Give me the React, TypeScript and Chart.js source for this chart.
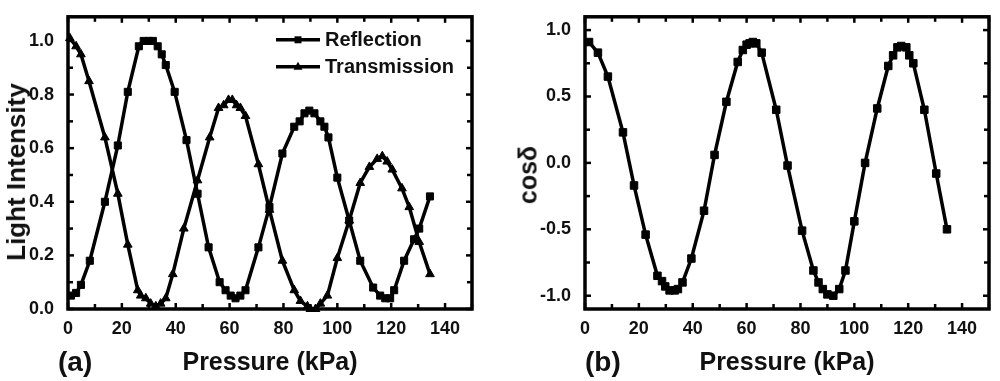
import React, { useEffect, useRef } from "react";
import { Chart, registerables } from "chart.js";

Chart.register(...registerables);

// ---------- Data (panel a) ----------
const reflectionP = [1.1, 3, 4.8, 8.1, 13.7, 18.5, 22.2, 26.3, 28.1, 30, 31.5, 33.3, 34.8, 36.3, 39.6, 44, 48.1, 52.2, 56.3, 58.5, 60.4, 62.2, 64, 65.9, 70.7, 74.8, 79.6, 84, 86, 87.8, 89.6, 91.5, 93.7, 95.2, 96.7, 100, 104.4, 108.5, 113.3, 115.9, 117.8, 119.6, 121.1, 124.8, 128.5, 130.4, 134.4];
const reflectionI = [0.05, 0.06, 0.09, 0.18, 0.4, 0.61, 0.81, 0.98, 1.0, 1.0, 1.0, 0.98, 0.95, 0.91, 0.81, 0.63, 0.43, 0.23, 0.1, 0.07, 0.05, 0.04, 0.05, 0.07, 0.23, 0.38, 0.58, 0.68, 0.7, 0.73, 0.74, 0.73, 0.7, 0.68, 0.64, 0.49, 0.33, 0.18, 0.08, 0.05, 0.04, 0.04, 0.07, 0.18, 0.26, 0.3, 0.42];

const transmissionP = [0.7, 3, 4.8, 7.8, 13.7, 18.5, 22.2, 25.9, 27, 28.9, 30.7, 32.6, 34.4, 36.3, 38.9, 43, 48.1, 52.6, 55.9, 57.8, 59.6, 61, 62.6, 64, 65.9, 70.7, 74.8, 79.6, 84, 86.3, 88.9, 90, 91.9, 93.7, 96.3, 100, 104.4, 108.5, 111.9, 114.8, 116.7, 118.5, 120.4, 124, 126.7, 130.4, 134.4];
const transmissionI = [1.01, 0.98, 0.95, 0.85, 0.64, 0.43, 0.24, 0.07, 0.05, 0.04, 0.02, 0.01, 0.02, 0.04, 0.13, 0.3, 0.48, 0.64, 0.75, 0.76, 0.78, 0.78, 0.76, 0.75, 0.72, 0.54, 0.37, 0.18, 0.07, 0.03, 0.01, 0.0, 0.0, 0.02, 0.05, 0.19, 0.33, 0.47, 0.53, 0.56, 0.57, 0.55, 0.52, 0.45, 0.38, 0.25, 0.13];

// ---------- Data (panel b) ----------
const cosP = [1.5, 4.8, 8.5, 14.1, 18.2, 22.5, 26.9, 28.6, 29.8, 31.4, 33.3, 34.5, 36.2, 39.5, 44.2, 48.1, 52.5, 56.7, 58.6, 60, 61.1, 62.3, 63.6, 65.6, 71, 75.2, 80.6, 84.8, 86.7, 88.3, 90, 92.2, 94.4, 96.7, 100, 104, 108.5, 112.6, 114.4, 116, 117.4, 119.3, 120.4, 121.9, 126, 130.4, 134.4];
const cosV = [0.91, 0.83, 0.65, 0.23, -0.17, -0.54, -0.85, -0.89, -0.93, -0.96, -0.96, -0.95, -0.9, -0.72, -0.36, 0.06, 0.46, 0.76, 0.85, 0.89, 0.9, 0.91, 0.9, 0.83, 0.4, -0.02, -0.51, -0.81, -0.9, -0.95, -0.99, -1.0, -0.95, -0.81, -0.44, 0.0, 0.41, 0.73, 0.81, 0.87, 0.88, 0.87, 0.81, 0.75, 0.4, -0.08, -0.5];

// ---------- Ticks ----------
const xMajorTicks = [0, 20, 40, 60, 80, 100, 120, 140];
const xMinorTicks = [10, 30, 50, 70, 90, 110, 130, 150];
const yMajorTicksA = [0, 0.2, 0.4, 0.6, 0.8, 1.0];
const yMinorTicksA = [0.1, 0.3, 0.5, 0.7, 0.9];
const yMajorTicksB = [-1.0, -0.5, 0.0, 0.5, 1.0];
const yMinorTicksB = [-0.75, -0.25, 0.25, 0.75];

const FONT = "'Liberation Sans', Arial, Helvetica, sans-serif";
const INK = "#111";

const toPoints = (xs: number[], ys: number[]) => xs.map((x, i) => ({ x, y: ys[i] }));

const framePlugin = {
  id: "frameTicks",
  afterDraw(chart: any, _args: any, opts: any) {
    const { ctx, chartArea, scales } = chart;
    const { left, right, top, bottom } = chartArea;
    ctx.save();
    ctx.strokeStyle = "#000";
    ctx.lineCap = "butt";
    const seg = (x1: number, y1: number, x2: number, y2: number) => {
      ctx.beginPath();
      ctx.moveTo(x1, y1);
      ctx.lineTo(x2, y2);
      ctx.stroke();
    };
    ctx.lineWidth = 2.5;
    const drawX = (vals: number[], len: number) => {
      for (const v of vals) {
        const px = scales.x.getPixelForValue(v);
        if (px < left - 0.5 || px > right + 0.5) continue;
        seg(px, bottom, px, bottom - len);
        seg(px, top, px, top + len);
      }
    };
    const drawY = (vals: number[], len: number) => {
      for (const v of vals) {
        const py = scales.y.getPixelForValue(v);
        seg(left, py, left + len, py);
        seg(right, py, right - len, py);
      }
    };
    drawX(opts.xMajor, 6);
    drawX(opts.xMinor, 5);
    drawY(opts.yMajor, 6);
    drawY(opts.yMinor, 5);
    ctx.lineWidth = 3.5;
    ctx.strokeRect(left, top, right - left, bottom - top);
    ctx.restore();
  },
};

const legendPlugin = {
  id: "insideLegend",
  afterDraw(chart: any, _args: any, opts: any) {
    if (!opts || !opts.enabled) return;
    const { ctx, chartArea } = chart;
    ctx.save();
    chart.data.datasets.forEach((ds: any, i: number) => {
      const y = chartArea.top + 23 + i * 27;
      const x1 = chartArea.right - 196;
      const x2 = chartArea.right - 152;
      const cx = (x1 + x2) / 2;
      ctx.strokeStyle = "#000";
      ctx.lineWidth = 3.5;
      ctx.beginPath();
      ctx.moveTo(x1, y);
      ctx.lineTo(x2, y);
      ctx.stroke();
      ctx.fillStyle = "#000";
      ctx.beginPath();
      if (ds.pointStyle === "triangle") {
        ctx.moveTo(cx, y - 5);
        ctx.lineTo(cx + 4.5, y + 3);
        ctx.lineTo(cx - 4.5, y + 3);
        ctx.closePath();
      } else {
        ctx.rect(cx - 3.5, y - 3.5, 7, 7);
      }
      ctx.fill();
      ctx.fillStyle = INK;
      ctx.font = `bold 20px ${FONT}`;
      ctx.textBaseline = "middle";
      ctx.textAlign = "left";
      ctx.fillText(ds.label, x2 + 5, y + 1);
    });
    ctx.restore();
  },
};

function makeOptions(p: {
  yMin: number; yMax: number; yMajor: number[]; yMinor: number[]; yWidth: number; padRight: number; legend: boolean;
}) {
  return {
    animation: false,
    responsive: false,
    maintainAspectRatio: false,
    layout: { padding: { top: 12, right: p.padRight, left: 0, bottom: 0 } },
    plugins: {
      legend: { display: false },
      tooltip: { enabled: false },
      frameTicks: { xMajor: xMajorTicks, xMinor: xMinorTicks, yMajor: p.yMajor, yMinor: p.yMinor },
      insideLegend: { enabled: p.legend },
    },
    scales: {
      x: {
        type: "linear",
        min: 0,
        max: 150,
        grid: { display: false },
        border: { display: false },
        afterBuildTicks: (s: any) => { s.ticks = xMajorTicks.map((v) => ({ value: v })); },
        afterFit: (s: any) => { s.height = 72; },
        ticks: {
          autoSkip: false, maxRotation: 0, padding: 1, color: INK,
          font: { size: 18, weight: "bold", family: FONT },
          callback: (v: any) => String(v),
        },
        title: {
          display: true, text: "Pressure (kPa)", color: INK,
          font: { size: 25, weight: "bold", family: FONT },
          padding: { top: 0, bottom: 3 },
        },
      },
      y: {
        type: "linear",
        min: p.yMin,
        max: p.yMax,
        grid: { display: false },
        border: { display: false },
        afterBuildTicks: (s: any) => { s.ticks = p.yMajor.map((v) => ({ value: v })); },
        afterFit: (s: any) => { s.width = p.yWidth; },
        ticks: {
          autoSkip: false, padding: 6, color: INK,
          font: { size: 18, weight: "bold", family: FONT },
          callback: (v: any) => Number(v).toFixed(1),
        },
      },
    },
  };
}

const lineDs = (label: string, data: any[], pointStyle: string, radius: number) => ({
  label,
  data,
  pointStyle,
  borderColor: "#000",
  backgroundColor: "#000",
  pointBackgroundColor: "#000",
  pointBorderColor: "#000",
  borderWidth: 3.5,
  pointRadius: radius,
  pointBorderWidth: 1,
  tension: 0,
  clip: false,
  fill: false,
});

export default function App() {
  const refA = useRef<HTMLCanvasElement | null>(null);
  const refB = useRef<HTMLCanvasElement | null>(null);

  useEffect(() => {
    const chartA = new Chart(refA.current as HTMLCanvasElement, {
      type: "line",
      data: {
        datasets: [
          lineDs("Reflection", toPoints(reflectionP, reflectionI), "rect", 5) as any,
          lineDs("Transmission", toPoints(transmissionP, transmissionI), "triangle", 5) as any,
        ],
      },
      options: makeOptions({ yMin: 0, yMax: 1.09, yMajor: yMajorTicksA, yMinor: yMinorTicksA, yWidth: 68, padRight: 28, legend: true }) as any,
      plugins: [framePlugin, legendPlugin],
    });
    const chartB = new Chart(refB.current as HTMLCanvasElement, {
      type: "line",
      data: {
        datasets: [lineDs("cosδ", toPoints(cosP, cosV), "rect", 5.3) as any],
      },
      options: makeOptions({ yMin: -1.1, yMax: 1.1, yMajor: yMajorTicksB, yMinor: yMinorTicksB, yWidth: 85, padRight: 11, legend: false }) as any,
      plugins: [framePlugin, legendPlugin],
    });
    return () => {
      chartA.destroy();
      chartB.destroy();
    };
  }, []);

  const label: React.CSSProperties = {
    position: "absolute",
    fontFamily: FONT,
    fontWeight: "bold",
    color: INK,
    whiteSpace: "nowrap",
    lineHeight: 1,
  };

  return (
    <div style={{ position: "absolute", left: 0, top: 0, width: 1000, height: 381, background: "#fff", overflow: "hidden" }}>
      <canvas ref={refA} width={500} height={381} style={{ position: "absolute", left: 0, top: 0, width: 500, height: 381 }} />
      <canvas ref={refB} width={500} height={381} style={{ position: "absolute", left: 500, top: 0, width: 500, height: 381 }} />
      <div style={{ ...label, left: 16, top: 172, fontSize: 26, transform: "translate(-50%, -50%) rotate(-90deg)" }}>Light Intensity</div>
      <div style={{ ...label, left: 528, top: 175, fontSize: 25, transform: "translate(-50%, -50%) rotate(-90deg)" }}>cosδ</div>
      <div style={{ ...label, left: 58, top: 348, fontSize: 28 }}>(a)</div>
      <div style={{ ...label, left: 585, top: 348, fontSize: 28 }}>(b)</div>
    </div>
  );
}
